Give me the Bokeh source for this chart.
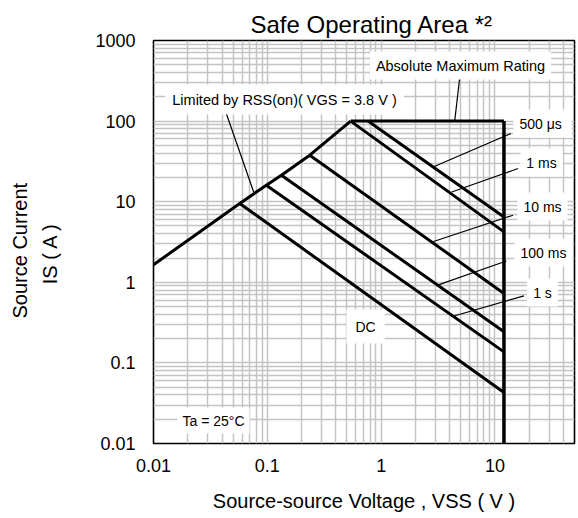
from bokeh.plotting import figure
from bokeh.models import FixedTicker, CustomJSTickFormatter, Label, Range1d, Title
from bokeh.embed import file_html
from bokeh.resources import INLINE

# ---------------- data ----------------
x_ticks = [0.01, 0.1, 1, 10]
y_ticks = [0.01, 0.1, 1, 10, 100, 1000]

# R_SS(on) limit line (read points)
rds_v = [0.01, 0.0572, 0.098, 0.133, 0.236, 0.54]
rds_i = [1.65, 9.5, 16.0, 21.3, 37.8, 100]
# absolute maximum current
cap_v = [0.54, 12]
cap_i = [100, 100]
# absolute maximum voltage
vmax_v = [12, 12]
vmax_i = [100, 0.01]

# pulse-width limited lines (start on the R_SS(on) line / cap, end at 12 V)
pulse_names = ["500 μs", "1 ms", "10 ms", "100 ms", "1 s", "DC"]
pulse_v0 = [0.767, 0.54, 0.236, 0.133, 0.098, 0.0572]
pulse_i0 = [100, 100, 37.8, 21.3, 16.0, 9.5]
pulse_v1 = [12, 12, 12, 12, 12, 12]
pulse_i1 = [6.47, 4.22, 0.727, 0.243, 0.137, 0.043]

# leader lines (label end -> curve point), data coordinates
leader_x0 = [13.8, 15.96, 14.4, 12.6, 18.0, 4.91, 0.0436]
leader_y0 = [70.2, 25.8, 6.8, 1.84, 0.678, 353, 124]
leader_x1 = [2.86, 4.17, 2.76, 3.05, 4.14, 4.43, 0.076]
leader_y1 = [26.9, 13.2, 3.14, 0.91, 0.374, 100, 13.1]

FONT = "Liberation Sans"

p = figure(
    x_axis_type="log", y_axis_type="log",
    x_range=Range1d(0.01, 50), y_range=Range1d(0.01, 1000),
    frame_width=421, frame_height=403,
    min_border_left=150, min_border_right=7, min_border_top=40, min_border_bottom=75,
    output_backend="svg", toolbar_location=None, tools="",
)
p.background_fill_color = "white"
p.border_fill_color = "white"
p.outline_line_color = "black"
p.outline_line_width = 1.6

# title
p.title.text = "Safe Operating Area *\u00b2"
p.title.align = "left"
p.title.offset = 97
p.title.text_font = FONT
p.title.text_font_size = "24px"
p.title.text_font_style = "normal"
p.title.text_color = "black"
p.title.standoff = 6

x_minor = [m * d for d in [0.01, 0.1, 1, 10] for m in range(2, 10) if m * d < 50]
y_minor = [m * d for d in [0.01, 0.1, 1, 10, 100] for m in range(2, 10)]
p.xaxis.ticker = FixedTicker(ticks=x_ticks, minor_ticks=x_minor)
p.yaxis.ticker = FixedTicker(ticks=y_ticks, minor_ticks=y_minor)
p.xaxis.formatter = CustomJSTickFormatter(code="return tick.toString();")
p.yaxis.formatter = CustomJSTickFormatter(code="return tick.toString();")

for ax in (p.xaxis, p.yaxis):
    ax.axis_line_color = None
    ax.major_tick_line_color = None
    ax.minor_tick_line_color = None
    ax.major_tick_out = 0
    ax.major_tick_in = 0
    ax.minor_tick_out = 0
    ax.minor_tick_in = 0
    ax.major_label_text_font = FONT
    ax.major_label_text_font_size = "18px"
    ax.major_label_text_color = "black"
    ax.axis_label_text_font = FONT
    ax.axis_label_text_font_style = "normal"
    ax.axis_label_text_color = "black"
    ax.axis_label_text_font_size = "20px"
p.xaxis.major_label_standoff = 15
p.yaxis.major_label_standoff = 18

p.xaxis.axis_label = "Source-source Voltage , VSS ( V )"
p.xaxis.axis_label_standoff = 15
p.yaxis.axis_label = "IS ( A )" + "\u00a0" * 4
p.yaxis.axis_label_standoff = 31

p.add_layout(Title(text="Source Current", align="left", offset=125, standoff=12,
                   text_font=FONT, text_font_size="20px", text_font_style="normal",
                   text_color="black"), "left")

for g in (p.xgrid, p.ygrid):
    g.grid_line_color = "#c4c4c4"
    g.grid_line_width = 1.5
    g.minor_grid_line_color = "#c4c4c4"
    g.minor_grid_line_width = 1.5

# curves
p.line(rds_v, rds_i, line_color="black", line_width=3)
p.line(cap_v, cap_i, line_color="black", line_width=3)
p.line(vmax_v, vmax_i, line_color="black", line_width=3.5)
p.segment(x0=pulse_v0, y0=pulse_i0, x1=pulse_v1, y1=pulse_i1, line_color="black", line_width=3)
p.segment(x0=leader_x0, y0=leader_y0, x1=leader_x1, y1=leader_y1, line_color="black", line_width=1.2)

# frame-relative screen positions (x from frame left, y from frame bottom)
def lab(text, x, y, size="14px", pad=6):
    p.add_layout(Label(x=x, y=y, x_units="screen", y_units="screen", text=text,
                       text_font=FONT, text_font_size=size, text_color="black",
                       text_align="center", text_baseline="middle",
                       background_fill_color="white", padding=pad))

lab("Limited by RSS(on)( VGS = 3.8 V )", 131, 344, size="14.5px", pad=7)
lab("Absolute Maximum Rating", 307, 378, size="14.5px", pad=6)
lab(pulse_names[0].replace(" ", "  "), 389, 320)
lab(pulse_names[1], 388, 281)
lab(pulse_names[2], 389, 237)
lab(pulse_names[3], 390, 191)
lab(pulse_names[4], 389, 151)
lab(pulse_names[5], 212, 117, pad=9)
lab("Ta = 25°C", 60, 23, pad=5)

open("out.html", "w").write(file_html(p, INLINE))
